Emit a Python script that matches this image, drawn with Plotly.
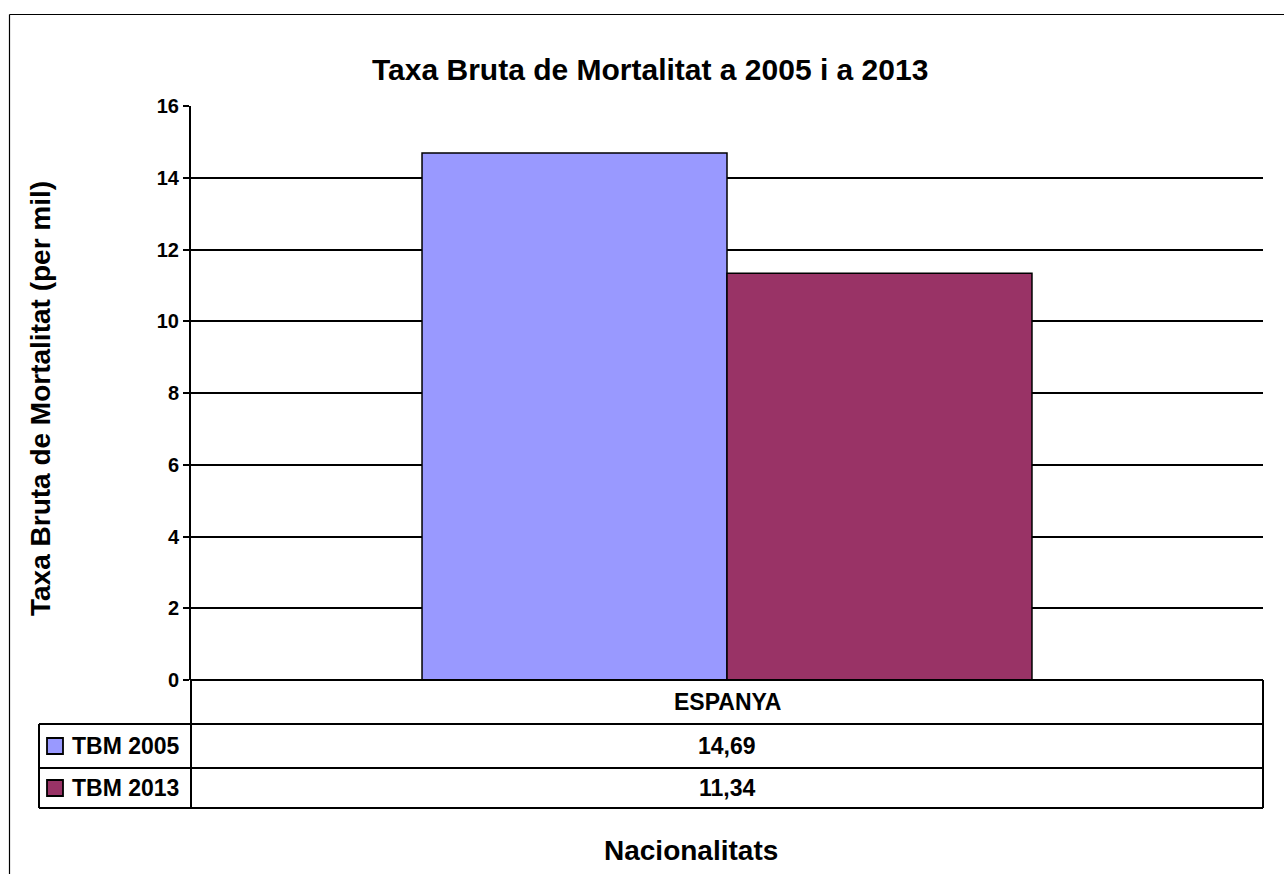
import plotly.graph_objects as go

W, H = 1284, 874

# ---- data ----
categories = ["ESPANYA"]
series_names = ["TBM 2005", "TBM 2013"]
series_values = [[14.69], [11.34]]
series_colors = ["#9999FF", "#993366"]
y_ticks = [0, 2, 4, 6, 8, 10, 12, 14, 16]

title_text = "Taxa Bruta de Mortalitat a 2005 i a 2013"
y_title = "Taxa Bruta de Mortalitat (per mil)"
x_title = "Nacionalitats"

FONT = "Liberation Sans, Arial, sans-serif"

def px(x):
    return x / W

def py(y):
    return 1 - y / H

# plot-area pixel geometry
L, R, T, B = 191, 1263, 106, 680
row1, row2, row3 = 724, 768, 808
tleft = 39

fig = go.Figure()
for name, vals, col in zip(series_names, series_values, series_colors):
    fig.add_trace(go.Bar(
        x=categories, y=vals, name=name,
        marker=dict(color=col, line=dict(color="black", width=1.5)),
    ))

shapes = []
def line(x0, y0, x1, y1, w=2):
    shapes.append(dict(type="line", xref="paper", yref="paper",
                       x0=px(x0), y0=py(y0), x1=px(x1), y1=py(y1),
                       line=dict(color="black", width=w)))

# outer chart border (left and top visible)
line(9.5, 14.5, W + 5, 14.5, 1.2)
line(9.5, 14.5, 9.5, H + 5, 1.2)

# data table
line(L, B, R, B, 2)          # top of category row
line(tleft, row1, R, row1, 2)
line(tleft, row2, R, row2, 2)
line(tleft, row3, R, row3, 2)
line(R, B, R, row3, 2)
line(tleft, row1, tleft, row3, 2)
line(L, B, L, row3, 2)

TF = 23
annotations = []
# category labels in table
for i, c in enumerate(categories):
    annotations.append(dict(text=c, xref="paper", yref="paper",
                            x=px((L + R) / 2), y=py((B + row1) / 2),
                            showarrow=False, xanchor="center", yanchor="middle",
                            font=dict(family=FONT, size=TF, color="black", weight="bold")))

rows = [(row1, row2), (row2, row3)]
for (r0, r1), name, vals, col in zip(rows, series_names, series_values, series_colors):
    cy = (r0 + r1) / 2
    # legend key
    shapes.append(dict(type="rect", xref="paper", yref="paper",
                       x0=px(47), x1=px(63), y0=py(cy - 8), y1=py(cy + 8),
                       fillcolor=col, line=dict(color="black", width=1.8)))
    annotations.append(dict(text=name, xref="paper", yref="paper",
                            x=px(70), y=py(cy), showarrow=False,
                            xanchor="left", yanchor="middle",
                            font=dict(family=FONT, size=TF, color="black", weight="bold")))
    for v in vals:
        annotations.append(dict(text=f"{v:.2f}".replace(".", ","), xref="paper", yref="paper",
                                x=px((L + R) / 2), y=py(cy), showarrow=False,
                                xanchor="center", yanchor="middle",
                                font=dict(family=FONT, size=TF, color="black", weight="bold")))

# titles
annotations.append(dict(text=title_text, xref="paper", yref="paper",
                        x=px(650), y=py(70), showarrow=False,
                        xanchor="center", yanchor="middle",
                        font=dict(family=FONT, size=30, color="black", weight="bold")))
annotations.append(dict(text=y_title, xref="paper", yref="paper",
                        x=px(40), y=py(399), showarrow=False, textangle=-90,
                        xanchor="center", yanchor="middle",
                        font=dict(family=FONT, size=28, color="black", weight="bold")))
annotations.append(dict(text=x_title, xref="paper", yref="paper",
                        x=px(691), y=py(850), showarrow=False,
                        xanchor="center", yanchor="middle",
                        font=dict(family=FONT, size=28, color="black", weight="bold")))

fig.update_layout(
    width=W, height=H,
    margin=dict(l=0, r=0, t=0, b=0, autoexpand=False),
    paper_bgcolor="white", plot_bgcolor="white",
    barmode="group", bargap=0.431, bargroupgap=0,
    showlegend=False,
    shapes=shapes, annotations=annotations,
    xaxis=dict(domain=[px(L), px(R)], showticklabels=False, showgrid=False,
               zeroline=False, showline=False, ticks=""),
    yaxis=dict(domain=[py(B), py(T)], range=[0, 16], tickvals=y_ticks,
               showgrid=True, gridcolor="black", gridwidth=1.7,
               zeroline=False, showline=True, linecolor="black", linewidth=2,
               ticks="outside", ticklen=6, tickcolor="black", tickwidth=1.7,
               tickfont=dict(family=FONT, size=20, color="black", weight="bold")),
    font=dict(family=FONT, color="black"),
)

fig.write_html("out.html", config={"displayModeBar": False},
               post_script="document.body.style.margin='0px';document.body.style.overflow='hidden';")
